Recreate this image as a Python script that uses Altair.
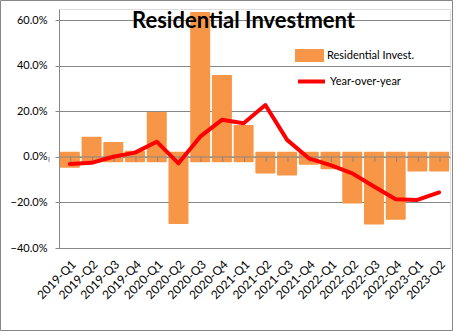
import altair as alt
import pandas as pd

quarters = ["2019-Q1", "2019-Q2", "2019-Q3", "2019-Q4", "2020-Q1", "2020-Q2",
            "2020-Q3", "2020-Q4", "2021-Q1", "2021-Q2", "2021-Q3", "2021-Q4",
            "2022-Q1", "2022-Q2", "2022-Q3", "2022-Q4", "2023-Q1", "2023-Q2"]
resid_invest = [-4.7, 8.9, 6.6, 2.7, 19.7, -29.5, 63.7, 36.0, 14.0, -7.3, -8.2, -3.4,
                -5.4, -20.5, -29.7, -27.6, -6.4, -6.4]
yoy = [-3.1, -2.6, 0.1, 1.9, 6.7, -2.8, 8.9, 16.3, 14.8, 22.8, 7.5, -0.6,
       -3.6, -7.2, -13.0, -18.6, -18.9, -15.6]
y_ticks = [-40, -20, 0, 20, 40, 60]

BAR_NAME = "Residential Invest."
LINE_NAME = "Year-over-year"
ORANGE = "#F79646"
RED = "#FF0000"
GREY = "#868686"
FONT = "Lato"
STUB = 2.3  # Excel-style bar stub across the zero axis

df = pd.DataFrame({"q": quarters, "v": resid_invest, "yoy": yoy})
df["base"] = [(-STUB if v >= 0 else STUB) for v in resid_invest]
df["bar_s"] = BAR_NAME
df["line_s"] = LINE_NAME

W, H = 391, 239
xs = alt.Scale(domain=quarters, paddingInner=0.08, paddingOuter=0.04)
ys = alt.Scale(domain=[-40, 65], nice=False, zero=False)
step = W / 18.0

x_enc = alt.X("q:N", scale=xs, sort=quarters, title=None,
              axis=alt.Axis(labelAngle=-45, labelAlign="right", labelBaseline="middle",
                            labelFont=FONT, labelFontSize=12, labelColor="#000000",
                            ticks=False, domainColor=GREY, labelPadding=14, labelOffset=4))
y_enc = alt.Y("v:Q", scale=ys, title=None,
              axis=alt.Axis(values=y_ticks, labelExpr="format(datum.value, '.1f') + '%'",
                            grid=True, gridColor=GREY, domainColor=GREY, tickColor=GREY,
                            tickSize=4, labelPadding=8, labelFont=FONT, labelFontSize=11,
                            labelColor="#000000"))

base = alt.Chart(df)

bars = base.mark_bar(cornerRadius=1).encode(
    x=x_enc,
    y=y_enc,
    y2="base:Q",
    fill=alt.Fill("bar_s:N", scale=alt.Scale(domain=[BAR_NAME], range=[ORANGE]),
                  legend=alt.Legend(orient="none", legendX=236, legendY=32, title=None,
                                    symbolType="M-1,-0.45H1V0.45H-1Z", symbolSize=841,
                                    symbolStrokeWidth=0, labelFont=FONT, labelFontSize=11,
                                    labelOffset=3, padding=0)),
)

zero_line = alt.Chart(pd.DataFrame({"z": [0]})).mark_rule(color=GREY, strokeWidth=1).encode(
    y=alt.Y("z:Q", scale=ys)
)

ticks = base.mark_rule(color=GREY, strokeWidth=1).encode(
    x=alt.X("q:N", scale=xs, sort=quarters),
    xOffset=alt.value(-step / 2),
    y=alt.datum(0),
    y2=alt.datum(-2.2),
)
last_tick = alt.Chart(df.tail(1)).mark_rule(color=GREY, strokeWidth=1).encode(
    x=alt.X("q:N", scale=xs, sort=quarters),
    xOffset=alt.value(step / 2),
    y=alt.datum(0),
    y2=alt.datum(-2.2),
)

line = base.mark_line(strokeWidth=4, strokeJoin="round", strokeCap="round").encode(
    x=alt.X("q:N", scale=xs, sort=quarters),
    y=alt.Y("yoy:Q", scale=ys),
    stroke=alt.Stroke("line_s:N", scale=alt.Scale(domain=[LINE_NAME], range=[RED]),
                      legend=alt.Legend(orient="none", legendX=237, legendY=57, title=None,
                                        symbolType="stroke", symbolSize=729,
                                        symbolStrokeWidth=4, labelFont=FONT,
                                        labelFontSize=11, labelOffset=3, padding=0)),
)

title = alt.Chart(pd.DataFrame({"t": ["Residential Investment"]})).mark_text(
    font=FONT, fontWeight="bold", fontSize=22, align="center", baseline="alphabetic",
    color="#000000"
).encode(text="t:N", x=alt.value(184.5), y=alt.value(18.5))

border = alt.Chart(pd.DataFrame({"b": [0]})).mark_rect(
    fill=None, stroke=GREY, strokeWidth=1, clip=False
).encode(x=alt.value(-58.5), x2=alt.value(393.5), y=alt.value(-8.5), y2=alt.value(321.5))

chart = alt.layer(bars, zero_line, ticks, last_tick, line, title, border).properties(
    width=W, height=H,
    autosize=alt.AutoSizeParams(type="none"),
    padding={"left": 59, "top": 9, "right": 7, "bottom": 83},
).resolve_scale(fill="independent", stroke="independent").configure_view(
    stroke=None
).configure(background="white")

chart.save("out.html", embed_options={"renderer": "svg", "actions": False})
